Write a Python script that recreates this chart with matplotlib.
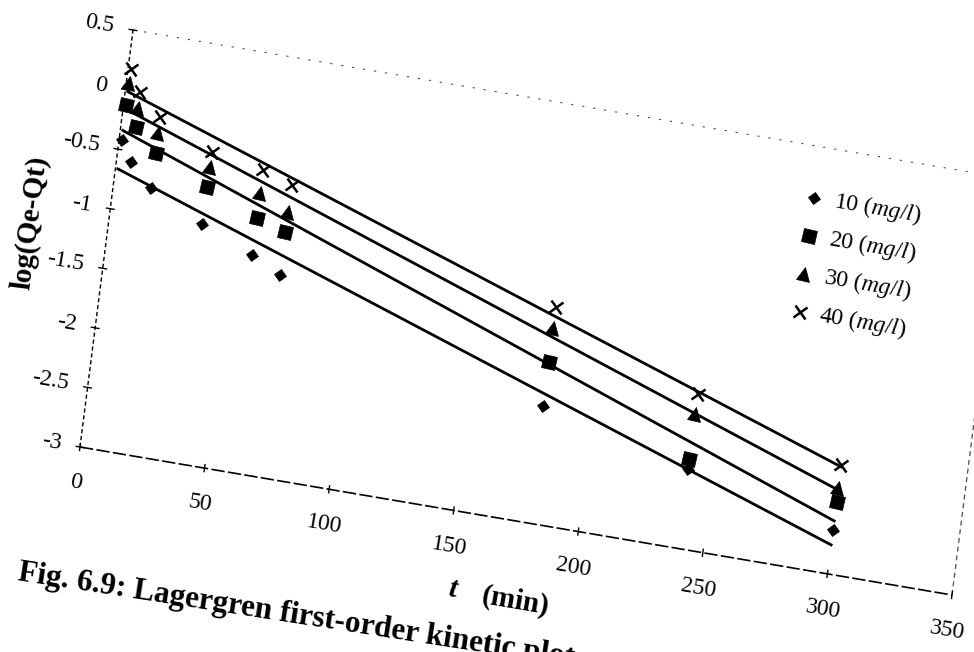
import numpy as np
import matplotlib
matplotlib.use("Agg")
import matplotlib.pyplot as plt
from matplotlib.transforms import Affine2D
from matplotlib.markers import MarkerStyle

# contact time (min)
t = [1, 6, 15, 37, 58, 70, 180, 240, 300]

# log(Qe-Qt) for each initial concentration
c10 = [-0.42, -0.59, -0.77, -1.00, -1.18, -1.31, -2.02, -2.33, -2.63]
c20 = [-0.13, -0.29, -0.48, -0.69, -0.87, -0.95, -1.65, -2.25, -2.40]
c30 = [0.06, -0.13, -0.31, -0.52, -0.66, -0.78, -1.36, -1.87, -2.28]
c40 = [0.18, 0.00, -0.18, -0.39, -0.47, -0.55, -1.19, -1.70, -2.09]

conc_labels = ["10", "20", "30", "40"]
xticks = [0, 50, 100, 150, 200, 250, 300, 350]
yticks = [0.5, 0, -0.5, -1, -1.5, -2, -2.5, -3]
ytick_labels = ["0.5", "0", "-0.5", "-1", "-1.5", "-2", "-2.5", "-3"]

plt.rcParams["font.family"] = ["Liberation Serif", "DejaVu Serif"]
plt.rcParams["mathtext.fontset"] = "custom"
plt.rcParams["mathtext.rm"] = "Liberation Serif"
plt.rcParams["mathtext.it"] = "Liberation Serif:italic"

W, H = 974, 652
fig = plt.figure(figsize=(W / 100, H / 100), dpi=100)
ax = fig.add_axes([0, 0, 1, 1])
ax.set_xlim(0, 350)
ax.set_ylim(-3, 0.5)
ax.set_axis_off()

# the printed page sits tilted: map the axes box onto a slanted parallelogram
tilt = Affine2D(np.array([[872 / W, 53 / W, 80 / W],
                          [-148 / H, 417 / H, 205 / H],
                          [0, 0, 1]]))
tr = ax.transScale + ax.transLimits + tilt + fig.transFigure
ang_x = np.degrees(np.arctan2(-148, 872))
ang_y = np.degrees(np.arctan2(417, 53))
rot = Affine2D().rotate_deg(ang_x)

# frame and ticks
ax.plot([0, 0], [-3, 0.5], transform=tr, color="k", lw=1.0, ls=(0, (3, 2)), clip_on=False)
ax.plot([0, 350], [-3, -3], transform=tr, color="k", lw=1.2, ls=(0, (8, 2)), clip_on=False)
ax.plot([0, 350], [0.5, 0.5], transform=tr, color="0.3", lw=0.8, ls=(0, (2, 8)), clip_on=False)
ax.plot([350, 350], [-3, 0.5], transform=tr, color="0.3", lw=0.9, ls=(0, (4, 3)), clip_on=False)
ax.vlines(xticks, -3.035, -2.965, transform=tr, color="k", lw=1.0)
ax.hlines(yticks, -1.8, 1.8, transform=tr, color="k", lw=1.0)

for v in xticks:
    ax.text(v, -3.30, str(v), transform=tr, rotation=ang_x, rotation_mode="anchor",
            ha="center", va="center", fontsize=17)
for v, s in zip(yticks, ytick_labels):
    ax.text(-7.5, v, s, transform=tr, rotation=ang_x, rotation_mode="anchor",
            ha="right", va="center", fontsize=17)

# series: markers plus linear trendlines
styles = [("D", 6.5, 0.5), ("s", 9.5, 0.5), ("^", 9.5, 0.5), ("x", 9, 1.8)]
for ys, (m, ms, mew) in zip([c10, c20, c30, c40], styles):
    ax.plot(t, ys, ls="none", marker=MarkerStyle(m, transform=rot), ms=ms, mew=mew,
            color="k", transform=tr, clip_on=False)
    k, b = np.polyfit(t, ys, 1)
    tt = np.array([t[0], t[-1]])
    ax.plot(tt, k * tt + b, color="k", lw=2.0, transform=tr, clip_on=False)

# legend laid out on the tilted page
for i, (lab, (m, ms, mew)) in enumerate(zip(conc_labels, styles)):
    ly = 0.07 - 0.318 * i
    ax.plot([276], [ly], ls="none", marker=MarkerStyle(m, transform=rot), ms=ms, mew=mew,
            color="k", transform=tr, clip_on=False)
    ax.text(284, ly, lab + r" $\mathit{(mg/l)}$", transform=tr, rotation=ang_x,
            rotation_mode="anchor", ha="left", va="center", fontsize=17)

# axis titles and caption
ax.text(-30.8, -1.23, "log(Qe-Qt)", transform=tr, rotation=ang_y, rotation_mode="anchor",
        ha="center", va="center", fontsize=21, fontweight="bold")
ax.text(153.3, -3.648, "t", transform=tr, rotation=ang_x, rotation_mode="anchor",
        ha="center", va="center", fontsize=21, fontweight="bold", fontstyle="italic")
ax.text(179.0, -3.657, "(min)", transform=tr, rotation=ang_x, rotation_mode="anchor",
        ha="center", va="center", fontsize=21, fontweight="bold")
ax.text(-18, -4.18, "Fig. 6.9: Lagergren first-order kinetic plot", transform=tr,
        rotation=-8.8, rotation_mode="anchor", ha="left", va="baseline",
        fontsize=22.5, fontweight="bold")

fig.savefig("out.png", dpi=100, facecolor="white")
